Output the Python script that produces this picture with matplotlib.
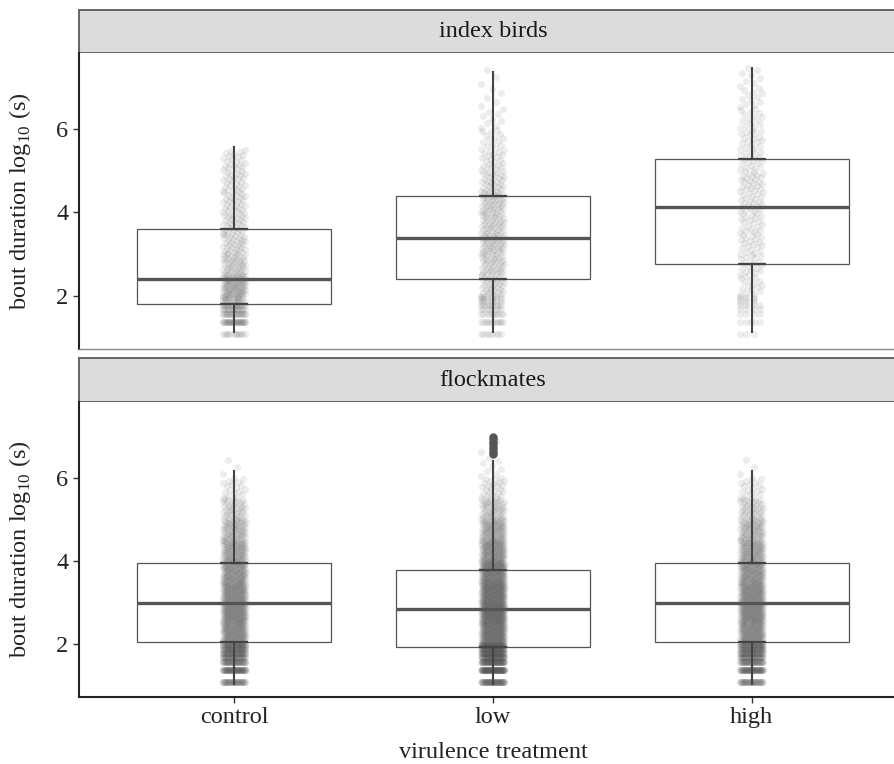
import numpy as np
import matplotlib
matplotlib.use('Agg')
import matplotlib.pyplot as plt

plt.rcParams['font.family'] = ['Liberation Serif', 'DejaVu Serif']
plt.rcParams['mathtext.fontset'] = 'custom'
plt.rcParams['mathtext.rm'] = 'Liberation Serif'

treatments = ['control', 'low', 'high']
panel_titles = ['index birds', 'flockmates']

# box statistics (log10 seconds)
index_q1 = [1.80, 2.40, 2.76]
index_med = [2.40, 3.39, 4.13]
index_q3 = [3.60, 4.40, 5.28]
index_lo = [1.13, 1.13, 1.13]
index_hi = [5.58, 7.36, 7.47]
index_fliers = [[], [], []]

flock_q1 = [2.06, 1.93, 2.06]
flock_med = [2.99, 2.84, 2.99]
flock_q3 = [3.96, 3.79, 3.96]
flock_lo = [1.05, 1.05, 1.05]
flock_hi = [6.15, 6.39, 6.17]
flock_fliers = [[], [6.56, 6.62, 6.68, 6.74, 6.80, 6.86, 6.92, 6.98], []]

# short bouts sit on discrete levels (the bands at the bottom of each cloud)
band_levels = [1.08, 1.38, 1.56, 1.68, 1.78, 1.86, 1.92, 1.98]
# longer bouts, counted in half-unit bins
bin_edges = [2.0, 2.5, 3.0, 3.5, 4.0, 4.5, 5.0, 5.5, 6.0, 6.5, 7.0, 7.5]

index_band_counts = [
    [12, 30, 22, 18, 14, 10, 8, 8],
    [8, 12, 10, 8, 8, 6, 6, 6],
    [3, 5, 4, 4, 4, 3, 3, 3],
]
index_bin_counts = [
    [80, 45, 35, 30, 28, 25, 22, 0, 0, 0, 0],
    [35, 40, 45, 40, 42, 30, 22, 15, 9, 5, 3],
    [16, 18, 20, 20, 22, 24, 18, 18, 15, 12, 8],
]
flock_band_counts = [
    [40, 60, 45, 40, 35, 30, 25, 25],
    [60, 90, 70, 60, 50, 40, 35, 35],
    [40, 60, 45, 40, 35, 30, 25, 25],
]
flock_bin_counts = [
    [130, 140, 130, 115, 90, 65, 40, 18, 3, 0, 0],
    [190, 210, 190, 165, 120, 85, 50, 25, 8, 2, 0],
    [130, 140, 130, 115, 90, 65, 40, 18, 3, 0, 0],
]

GOLDEN = 0.6180339887
FS = 17.5


def jitter_cloud(x0, band_counts, bin_counts, half_width=0.045):
    # spread the points evenly around the category position (no randomness)
    xs, ys = [], []
    for level, n in zip(band_levels, band_counts):
        for i in range(n):
            xs.append(x0 + ((i * GOLDEN) % 1 - 0.5) * 2 * half_width)
            ys.append(level)
    for lo, hi, n in zip(bin_edges[:-1], bin_edges[1:], bin_counts):
        for i in range(n):
            xs.append(x0 + ((i * GOLDEN) % 1 - 0.5) * 2 * half_width)
            ys.append(lo + (i + 0.5) / n * (hi - lo))
    return xs, ys


def draw_panel(ax, strip_ax, title, q1, med, q3, lo, hi, fliers,
               band_counts, bin_counts, bottom_panel):
    positions = [1, 2, 3]
    stats = []
    for i in range(3):
        stats.append(dict(q1=q1[i], med=med[i], q3=q3[i],
                          whislo=lo[i], whishi=hi[i], fliers=fliers[i]))

    bp = ax.bxp(stats, positions=positions, widths=0.75, showcaps=False,
                patch_artist=True,
                boxprops=dict(facecolor='white', edgecolor='#555555', linewidth=0.9),
                medianprops=dict(color='#555555', linewidth=2.4),
                whiskerprops=dict(color='#444444', linewidth=1.5),
                flierprops=dict(marker='o', markerfacecolor='#555555',
                                markeredgecolor='#555555', markersize=5))
    for b in bp['boxes']:
        b.set_zorder(1)
    for line in bp['medians'] + bp['whiskers'] + bp['fliers']:
        line.set_zorder(3)

    # jittered raw points
    for i, x0 in enumerate(positions):
        xs, ys = jitter_cloud(x0, band_counts[i], bin_counts[i])
        ax.scatter(xs, ys, s=26, color='#555555', alpha=0.1,
                   linewidths=0, zorder=2)

    # darker hinge marks across the point cloud
    ax.hlines(q1, [p - 0.055 for p in positions], [p + 0.055 for p in positions],
              color='#444444', linewidth=1.6, zorder=3)
    ax.hlines(q3, [p - 0.055 for p in positions], [p + 0.055 for p in positions],
              color='#444444', linewidth=1.6, zorder=3)

    ax.set_xlim(0.4, 3.6)
    ax.set_ylim(0.73, 7.82)
    ax.set_yticks([2, 4, 6])
    ax.tick_params(axis='y', labelsize=FS, length=4, width=1, color='#333333',
                   labelcolor='#222222')
    ax.set_ylabel(r'bout duration log$_{10}$ (s)', fontsize=FS, color='#222222')
    ax.yaxis.set_label_coords(-0.056, 0.5)
    for side in ['top', 'right']:
        ax.spines[side].set_visible(False)
    ax.spines['left'].set_color('#222222')
    ax.spines['left'].set_linewidth(1.5)

    if bottom_panel:
        ax.set_xticks(positions)
        ax.set_xticklabels(treatments)
        ax.tick_params(axis='x', labelsize=FS, length=4, width=1,
                       color='#333333', labelcolor='#222222')
        ax.spines['bottom'].set_color('#222222')
        ax.spines['bottom'].set_linewidth(1.5)
        ax.set_xlabel('virulence treatment', fontsize=FS, color='#222222', labelpad=10)
    else:
        ax.set_xticks([])
        ax.spines['bottom'].set_color('#888888')
        ax.spines['bottom'].set_linewidth(1.0)

    # facet strip
    strip_ax.set_facecolor('#dcdcdd')
    strip_ax.set_xticks([])
    strip_ax.set_yticks([])
    for side in strip_ax.spines.values():
        side.set_color('#666666')
        side.set_linewidth(1.4)
    strip_ax.text(0.5, 0.5, title, ha='center', va='center', fontsize=FS,
                  color='#1a1a1a', transform=strip_ax.transAxes)


fig = plt.figure(figsize=(8.95, 7.64), dpi=100)
W, H = 895.0, 764.0
left = 79 / W
width = (907 - 79) / W

strip_top = fig.add_axes([left, 1 - 53 / H, width, 43 / H])
ax_top = fig.add_axes([left, 1 - 349 / H, width, 296 / H])
strip_bot = fig.add_axes([left, 1 - 402 / H, width, 44 / H])
ax_bot = fig.add_axes([left, 1 - 697 / H, width, 295 / H])

draw_panel(ax_top, strip_top, panel_titles[0], index_q1, index_med, index_q3,
           index_lo, index_hi, index_fliers, index_band_counts, index_bin_counts,
           bottom_panel=False)
draw_panel(ax_bot, strip_bot, panel_titles[1], flock_q1, flock_med, flock_q3,
           flock_lo, flock_hi, flock_fliers, flock_band_counts, flock_bin_counts,
           bottom_panel=True)

fig.savefig('out.png', dpi=100)
